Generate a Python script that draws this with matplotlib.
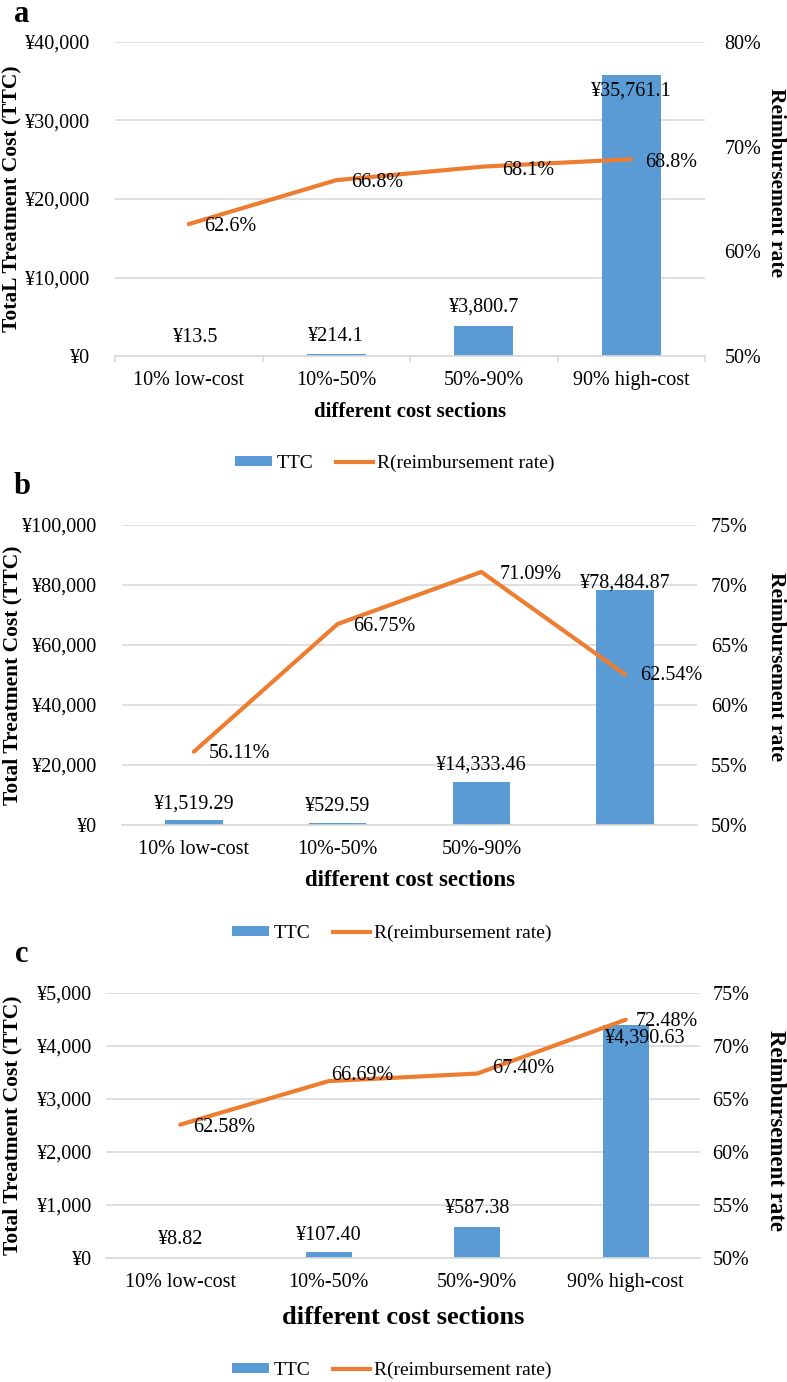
import matplotlib
matplotlib.use("Agg")
import matplotlib.pyplot as plt
from matplotlib.ticker import FuncFormatter, MultipleLocator, FixedLocator
from matplotlib.lines import Line2D
from matplotlib.patches import Patch

plt.rcParams['font.family'] = ['Liberation Serif', 'DejaVu Serif']

# ---------------- data ----------------
categories = ['10% low-cost', '10%-50%', '50%-90%', '90% high-cost']
categories_b = ['10% low-cost', '10%-50%', '50%-90%', '']

ttc_a = [13.5, 214.1, 3800.7, 35761.1]
rate_a = [62.6, 66.8, 68.1, 68.8]
ttc_a_labels = ['¥13.5', '¥214.1', '¥3,800.7', '¥35,761.1']
rate_a_labels = ['62.6%', '66.8%', '68.1%', '68.8%']

ttc_b = [1519.29, 529.59, 14333.46, 78484.87]
rate_b = [56.11, 66.75, 71.09, 62.54]
ttc_b_labels = ['¥1,519.29', '¥529.59', '¥14,333.46', '¥78,484.87']
rate_b_labels = ['56.11%', '66.75%', '71.09%', '62.54%']

ttc_c = [8.82, 107.40, 587.38, 4390.63]
rate_c = [62.58, 66.69, 67.40, 72.48]
ttc_c_labels = ['¥8.82', '¥107.40', '¥587.38', '¥4,390.63']
rate_c_labels = ['62.58%', '66.69%', '67.40%', '72.48%']

BLUE = '#5B9BD5'
ORANGE = '#ED7D31'
GRID = '#D9D9D9'

W, H = 787, 1382
fig = plt.figure(figsize=(W / 100, H / 100), dpi=100)


def px(x, y):
    return x / W, 1 - y / H


def rect(l, t, r, b):
    return [l / W, 1 - b / H, (r - l) / W, (b - t) / H]


def panel(r, ttc, rate, cats, ymax, ystep, rmax, rstep, barw,
          bar_off, rate_off, ylpad, yrpad, ticks_marks,
          letter, letter_xy, ylab, ylab_size, rlab_size, rlab_y, xlab_xy, xlab_size, leg_xy,
          bar_labels, rate_labels):
    ax = fig.add_axes(r)
    x = list(range(len(cats)))
    ax.bar(x, ttc, width=barw, color=BLUE, zorder=2)
    ax.set_xlim(-0.5, len(cats) - 0.5)
    ax.set_ylim(0, ymax)
    ax.yaxis.set_major_locator(MultipleLocator(ystep))
    ax.yaxis.set_major_formatter(FuncFormatter(lambda v, p: '¥{:,.0f}'.format(v)))
    ax.grid(axis='y', color=GRID, lw=1.2, zorder=0)
    ax.set_axisbelow(True)
    for s in ['top', 'right', 'left']:
        ax.spines[s].set_visible(False)
    ax.spines['bottom'].set_color(GRID)
    ax.spines['bottom'].set_linewidth(1.2)
    ax.set_xticks(x)
    ax.set_xticklabels(cats, fontsize=14.5)
    ax.tick_params(axis='x', length=0, pad=11)
    ax.tick_params(axis='y', length=0, pad=ylpad, labelsize=14.5)
    if ticks_marks:
        ax.xaxis.set_minor_locator(FixedLocator([-0.5, 0.5, 1.5, 2.5, 3.5]))
        ax.tick_params(axis='x', which='minor', length=4, color=GRID, width=1.2)

    ax2 = ax.twinx()
    ax2.plot(x, [v / 100 for v in rate], color=ORANGE, lw=3, solid_capstyle='round', zorder=3)
    ax2.set_ylim(0.5, rmax)
    ax2.yaxis.set_major_locator(MultipleLocator(rstep))
    ax2.yaxis.set_major_formatter(FuncFormatter(lambda v, p: '{:.0f}%'.format(v * 100)))
    ax2.tick_params(axis='y', length=0, pad=yrpad, labelsize=14.5)
    for s in ['top', 'right', 'left', 'bottom']:
        ax2.spines[s].set_visible(False)

    for i, (v, t) in enumerate(zip(ttc, bar_labels)):
        dx, dy = bar_off[i]
        ax2.annotate(t, xy=(i, 0.5 + (rmax - 0.5) * v / ymax), xytext=(dx, dy),
                     textcoords='offset points', ha='center', va='center', fontsize=14.5)
    for i, (v, t) in enumerate(zip(rate, rate_labels)):
        dx, dy = rate_off[i]
        ax2.annotate(t, xy=(i, v / 100), xytext=(dx, dy), textcoords='offset points',
                     ha='left', va='center', fontsize=14.5)

    # panel letter
    fig.text(*px(*letter_xy), letter, fontsize=22, fontweight='bold', ha='center', va='center')
    # axis titles
    l, b, w, h = r
    fig.text(12 / W, b + h / 2, ylab, rotation=90, fontsize=ylab_size, fontweight='bold',
             ha='center', va='center')
    fig.text(*px(776, rlab_y), 'Reimbursement rate', rotation=270, fontsize=rlab_size,
             fontweight='bold', ha='center', va='center')
    fig.text(*px(*xlab_xy), 'different cost sections', fontsize=xlab_size, fontweight='bold',
             ha='center', va='center')
    handles = [Patch(facecolor=BLUE, edgecolor='none'),
               Line2D([], [], color=ORANGE, lw=3)]
    fig.legend(handles, ['TTC', 'R(reimbursement rate)'], loc='center',
               bbox_to_anchor=px(*leg_xy), ncol=2, frameon=False, fontsize=14,
               handlelength=1.9, handleheight=0.4, handletextpad=0.2, columnspacing=1.2)
    return ax, ax2


# panel a
panel(rect(115, 42, 705, 356), ttc_a, rate_a, categories, 40000, 10000, 0.8, 0.1, 0.4,
      bar_off=[(5, 13), (0, 13), (0, 14), (0, -11)],
      rate_off=[(11, -2), (11, -2), (13, -3), (10, -2)],
      ylpad=18, yrpad=14, ticks_marks=True,
      letter='a', letter_xy=(22, 14), ylab='TotaL Treatment Cost (TTC)', ylab_size=15.5,
      rlab_size=15.5, rlab_y=182, xlab_xy=(410, 412), xlab_size=15, leg_xy=(395, 463),
      bar_labels=ttc_a_labels, rate_labels=rate_a_labels)

# panel b
panel(rect(122, 525, 697, 825), ttc_b, rate_b, categories_b, 100000, 20000, 0.75, 0.05, 0.4,
      bar_off=[(0, 12), (0, 12), (0, 12), (0, 5)],
      rate_off=[(11, -1), (11, -2), (13, -2), (11, -1)],
      ylpad=18, yrpad=10, ticks_marks=False,
      letter='b', letter_xy=(22, 487), ylab='Total Treatment Cost (TTC)', ylab_size=15.5,
      rlab_size=15.5, rlab_y=667, xlab_xy=(410, 880), xlab_size=16.5, leg_xy=(392, 933),
      bar_labels=ttc_b_labels, rate_labels=rate_b_labels)

# panel c
panel(rect(106, 993, 700, 1258), ttc_c, rate_c, categories, 5000, 1000, 0.75, 0.05, 0.31,
      bar_off=[(0, 13), (0, 12), (0, 13), (14, -9)],
      rate_off=[(9, -2), (2, 4), (11, 4), (7, -1)],
      ylpad=10, yrpad=9, ticks_marks=False,
      letter='c', letter_xy=(22, 955), ylab='Total Treatment Cost (TTC)', ylab_size=15.5,
      rlab_size=16.5, rlab_y=1130, xlab_xy=(403, 1318), xlab_size=19, leg_xy=(392, 1370),
      bar_labels=ttc_c_labels, rate_labels=rate_c_labels)

fig.savefig('out.png', dpi=100)
